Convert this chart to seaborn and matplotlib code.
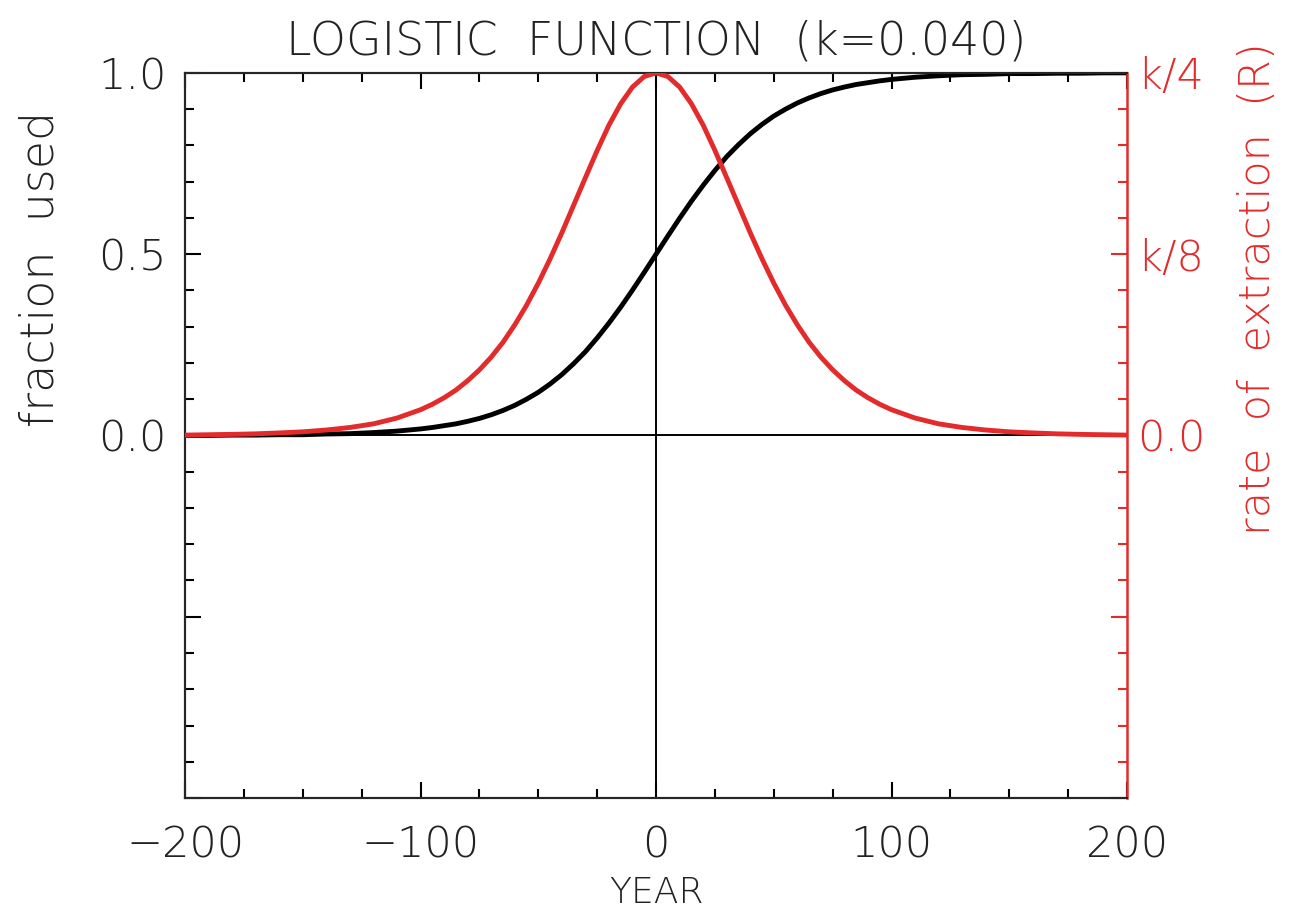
import matplotlib
matplotlib.use("Agg")
import matplotlib.pyplot as plt
from matplotlib.ticker import MultipleLocator, FixedLocator
from matplotlib import font_manager
import seaborn as sns
import pandas as pd

# ---- data ----
years = [-200, -190, -180, -170, -160, -150, -140, -130, -120, -110,
         -100, -95, -90, -85, -80, -75, -70, -65, -60, -55, -50, -45, -40, -35,
         -30, -25, -20, -15, -10, -5, 0, 5, 10, 15, 20, 25, 30, 35, 40, 45,
         50, 55, 60, 65, 70, 75, 80, 85, 90, 95, 100,
         110, 120, 130, 140, 150, 160, 170, 180, 190, 200]
fraction_used = [0.000, 0.000, 0.001, 0.001, 0.002, 0.002, 0.004, 0.005, 0.008, 0.012,
                 0.018, 0.022, 0.027, 0.032, 0.039, 0.047, 0.057, 0.069, 0.083, 0.100,
                 0.119, 0.142, 0.168, 0.198, 0.231, 0.269, 0.310, 0.354, 0.401, 0.450,
                 0.500, 0.550, 0.599, 0.646, 0.690, 0.731, 0.769, 0.802, 0.832, 0.858,
                 0.881, 0.900, 0.917, 0.931, 0.943, 0.953, 0.961, 0.968, 0.973, 0.978,
                 0.982, 0.988, 0.992, 0.995, 0.996, 0.998, 0.998, 0.999, 0.999, 1.000,
                 1.000]
rate_norm = [0.001, 0.002, 0.003, 0.0045, 0.007, 0.010, 0.015, 0.022, 0.032, 0.048,
             0.071, 0.086, 0.104, 0.125, 0.151, 0.181, 0.216, 0.257, 0.305, 0.359,
             0.420, 0.487, 0.559, 0.635, 0.711, 0.786, 0.856, 0.915, 0.961, 0.990,
             1.000, 0.990, 0.961, 0.915, 0.856, 0.786, 0.711, 0.635, 0.559, 0.487,
             0.420, 0.359, 0.305, 0.257, 0.216, 0.181, 0.151, 0.125, 0.104, 0.086,
             0.071, 0.048, 0.032, 0.022, 0.015, 0.010, 0.007, 0.0045, 0.003, 0.002,
             0.001]

left_tick_values = [-1.0, -0.5, 0.0, 0.5, 1.0]
left_tick_labels = ["", "", "0.0", "0.5", "1.0"]
right_tick_labels = ["", "", "0.0", "k/8", "k/4"]
x_tick_values = [-200, -100, 0, 100, 200]
x_tick_labels = ["\u2212200", "\u2212100", "0", "100", "200"]

df = pd.DataFrame({"year": years, "fraction": fraction_used, "rate": rate_norm})

RED = "#e32b2b"
INK = "#222222"

sns.set_theme(style="ticks")
# prefer a thin wide sans (DejaVu Sans ExtraLight) when present
_p = font_manager.findfont(font_manager.FontProperties(family="DejaVu Sans", weight=200))
if "ExtraLight" in _p:
    FAM, W, S = ["DejaVu Sans"], 200, 1.0
else:
    FAM, W, S = ["Open Sans", "DejaVu Sans"], 300, 1.05
plt.rcParams["font.family"] = FAM
plt.rcParams["font.weight"] = W
plt.rcParams["axes.labelweight"] = W
plt.rcParams["axes.titleweight"] = W
plt.rcParams["axes.linewidth"] = 1.5

TICK = 31 * S
fig = plt.figure(figsize=(12.94, 9.11), dpi=100)
ax = fig.add_axes([0.143, 0.124, 0.728, 0.796])

ax.axhline(0, color="black", lw=1.4, zorder=1)
ax.axvline(0, color="black", lw=1.4, zorder=1)

sns.lineplot(data=df, x="year", y="fraction", ax=ax, color="black", lw=3.5, zorder=3,
             solid_joinstyle="round", solid_capstyle="round")

ax.set_xlim(-200, 200)
ax.set_ylim(-1, 1)

ax.xaxis.set_major_locator(FixedLocator(x_tick_values))
ax.set_xticklabels(x_tick_labels)
ax.xaxis.set_minor_locator(MultipleLocator(25))
ax.yaxis.set_major_locator(FixedLocator(left_tick_values))
ax.set_yticklabels(left_tick_labels)
ax.yaxis.set_minor_locator(MultipleLocator(0.1))

ax.tick_params(which="both", direction="in", top=True, right=False, color="black",
               width=1.5, labelsize=TICK, labelcolor=INK)
ax.tick_params(which="major", length=11.5)
ax.tick_params(which="minor", length=6.5)
ax.tick_params(axis="x", which="major", pad=19)
ax.tick_params(axis="y", which="major", pad=13)
for lab in ax.get_xticklabels() + ax.get_yticklabels():
    lab.set_fontweight(W)

ax.set_title("LOGISTIC  FUNCTION  (k=0.040)", fontsize=33 * S, pad=13, color=INK,
             fontweight=W)
ax.set_xlabel("YEAR", fontsize=26 * S, color=INK, fontweight=W)
ax.xaxis.set_label_coords(0.5, -0.108)
ax.set_ylabel("fraction  used", fontsize=33 * S, color=INK, fontweight=W)
ax.yaxis.set_label_coords(-0.130, 0.73)

ax2 = ax.twinx()
sns.lineplot(data=df, x="year", y="rate", ax=ax2, color=RED, lw=3.5, zorder=3,
             solid_joinstyle="round", solid_capstyle="round")
ax2.set_ylim(-1, 1)
ax2.set_xlim(-200, 200)
ax2.yaxis.set_major_locator(FixedLocator(left_tick_values))
ax2.set_yticklabels(right_tick_labels)
ax2.yaxis.set_minor_locator(MultipleLocator(0.1))
ax2.tick_params(which="both", direction="in", color=RED, width=1.5, labelsize=TICK,
                labelcolor=RED, left=False)
ax2.tick_params(which="major", length=11.5, pad=7)
ax2.tick_params(which="minor", length=6.5)
for lab in ax2.get_yticklabels():
    lab.set_fontweight(W)
ax2.spines["right"].set_color(RED)
ax2.spines["right"].set_linewidth(1.8)
ax.spines["right"].set_visible(False)
ax2.set_ylabel("rate  of  extraction  (R)", fontsize=31 * S, color=RED, fontweight=W)
ax2.yaxis.set_label_coords(1.117, 0.702)
ax2.set_xlabel("")

fig.savefig("out.png", dpi=100, facecolor="white")
